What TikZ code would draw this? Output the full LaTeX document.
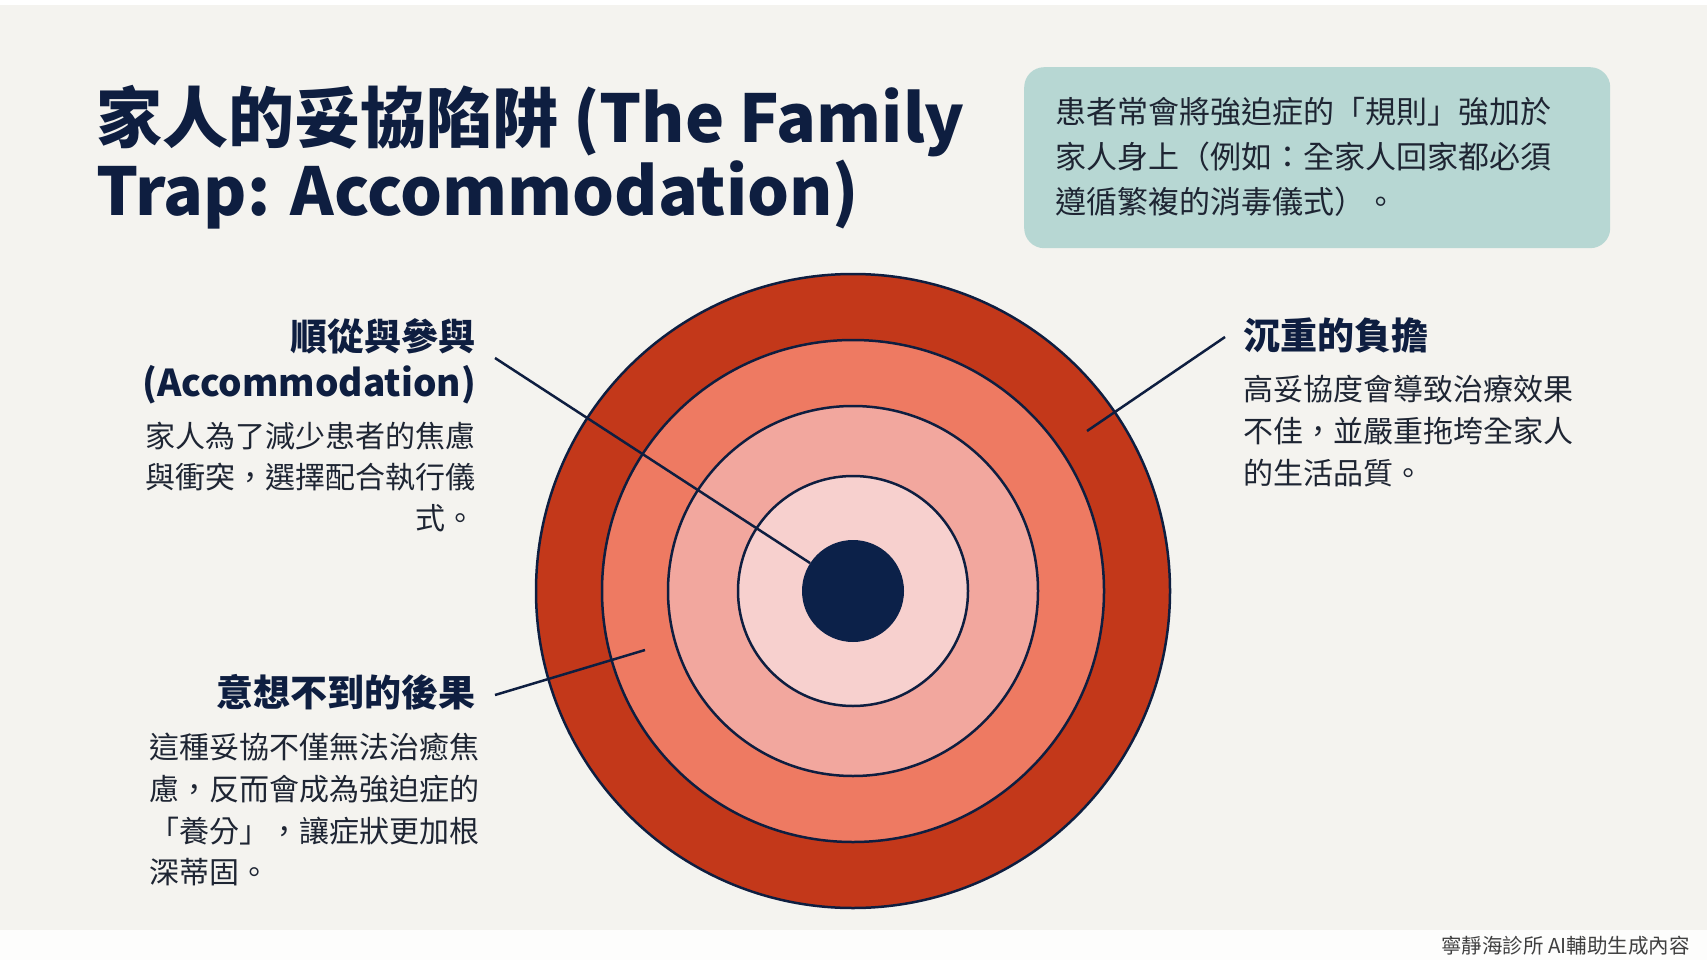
\documentclass[tikz,border=0pt]{standalone}
\usepackage{fontspec}
\newfontfamily\cjk{Noto Sans CJK TC}
\definecolor{bg}{HTML}{F4F3EF}
\definecolor{footbg}{HTML}{FDFDFC}
\definecolor{navy}{HTML}{0E1E40}
\definecolor{ink}{HTML}{1E2533}
\definecolor{notebg}{HTML}{B7D7D3}
\definecolor{ringa}{HTML}{C3381A}
\definecolor{ringb}{HTML}{EE7A62}
\definecolor{ringc}{HTML}{F2A79E}
\definecolor{ringd}{HTML}{F7D0CE}
\definecolor{dotc}{HTML}{0C2149}
\tikzset{
  titletext/.style={font=\cjk\bfseries\fontsize{66}{72}\selectfont, text=navy, inner sep=0pt},
  headtext/.style={font=\cjk\bfseries\fontsize{37}{44}\selectfont, text=navy, inner sep=0pt},
  bodytext/.style={font=\cjk\fontsize{30}{40}\selectfont, text=ink, inner sep=0pt},
  notetext/.style={font=\cjk\fontsize{31}{42}\selectfont, text=ink, inner sep=0pt},
  foottext/.style={font=\cjk\fontsize{20.5}{24}\selectfont, text=black!75, inner sep=0pt},
  ring/.style={circle, draw=navy, line width=2.5pt, inner sep=0pt},
  conn/.style={draw=navy, line width=2.5pt}
}
\begin{document}
\begin{tikzpicture}[x=1pt,y=-1pt]
\useasboundingbox (0,0) rectangle (1707,960);
\fill[bg] (0,0) rectangle (1707,960);
\fill[white] (0,0) rectangle (1707,5);
\fill[footbg] (0,930) rectangle (1707,960);

% title
\node[titletext, anchor=base west] (t1) at (96,143) {家人的妥協陷阱 (The Family};
\node[titletext, anchor=base west] (t2) at (96,215) {Trap: Accommodation)};

% note box
\node[fill=notebg, rounded corners=20pt, minimum width=586pt, minimum height=181pt, anchor=north west, inner sep=0pt] (note) at (1024,67) {};
\node[notetext, anchor=base west] (n1) at (1055,124) {患者常會將強迫症的「規則」強加於};
\node[notetext, anchor=base west] (n2) at (1055,169) {家人身上（例如：全家人回家都必須};
\node[notetext, anchor=base west] (n3) at (1055,214) {遵循繁複的消毒儀式）。};

% target
\node[ring, fill=ringa, minimum size=634pt] (r1) at (853,591) {};
\node[ring, fill=ringb, minimum size=502pt] (r2) at (853,591) {};
\node[ring, fill=ringc, minimum size=370pt] (r3) at (853,591) {};
\node[ring, fill=ringd, minimum size=230pt] (r4) at (853,591) {};
\node[circle, fill=dotc, minimum size=102pt, inner sep=0pt] (dot) at (853,591) {};

% left top label
\node[headtext, anchor=base east] (h1a) at (476,350) {順從與參與};
\node[headtext, anchor=base east] (h1b) at (476,396) {(Accommodation)};
\node[bodytext, anchor=base east] (b1a) at (476,447) {家人為了減少患者的焦慮};
\node[bodytext, anchor=base east] (b1b) at (476,488) {與衝突，選擇配合執行儀};
\node[bodytext, anchor=base east] (b1c) at (476,529) {式。};

% left bottom label
\node[headtext, anchor=base east] (h2) at (476,706) {意想不到的後果};
\node[bodytext, anchor=base west] (b2a) at (149,758) {這種妥協不僅無法治癒焦};
\node[bodytext, anchor=base west] (b2b) at (149,800) {慮，反而會成為強迫症的};
\node[bodytext, anchor=base west] (b2c) at (149,842) {「養分」，讓症狀更加根};
\node[bodytext, anchor=base west] (b2d) at (149,883) {深蒂固。};

% right label
\node[headtext, anchor=base west] (h3) at (1243,349) {沉重的負擔};
\node[bodytext, anchor=base west] (b3a) at (1243,400) {高妥協度會導致治療效果};
\node[bodytext, anchor=base west] (b3b) at (1243,442) {不佳，並嚴重拖垮全家人};
\node[bodytext, anchor=base west] (b3c) at (1243,484) {的生活品質。};

% connectors
\coordinate (s1) at (495,358);
\coordinate (s2) at (1225,337);
\coordinate (e2) at (1087,431);
\coordinate (s3) at (495,695);
\coordinate (e3) at (645,650);
\draw[conn] (s1) -- (dot);
\draw[conn] (s2) -- (e2);
\draw[conn] (s3) -- (e3);

% footer
\node[foottext, anchor=base east] (ft) at (1690,953) {寧靜海診所 AI輔助生成內容};
\end{tikzpicture}
\end{document}
